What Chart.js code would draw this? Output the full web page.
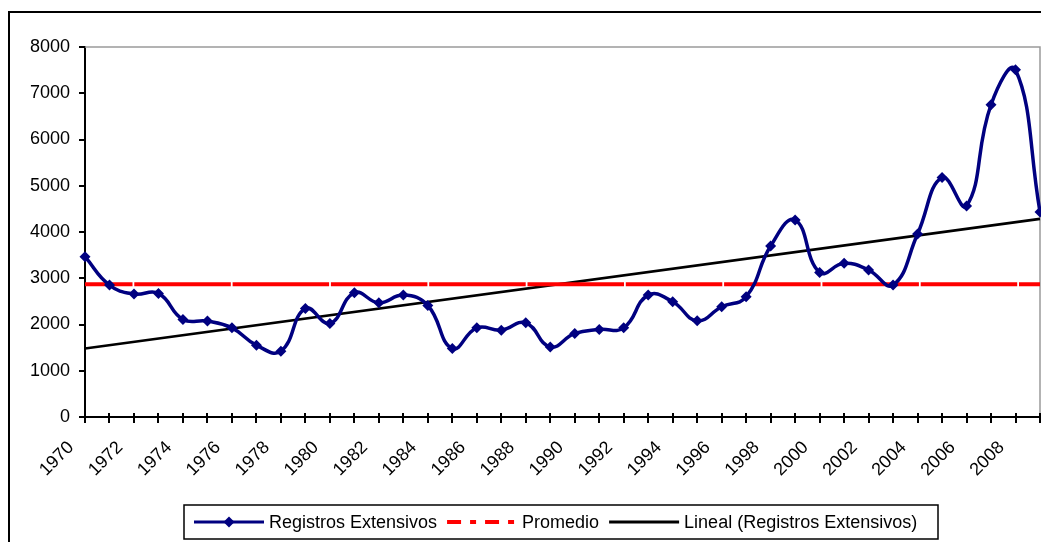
<!DOCTYPE html>
<html lang="es">
<head>
<meta charset="utf-8">
<title>Registros Extensivos</title>
<script src="https://cdn.jsdelivr.net/npm/chart.js@4/dist/chart.umd.min.js"></script>
<style>
  html, body { margin: 0; padding: 0; background: #fff; }
  canvas { display: block; }
</style>
</head>
<body>
<canvas id="registrosChart" width="1041" height="542"></canvas>
<script>
const years = ['1970', '1971', '1972', '1973', '1974', '1975', '1976', '1977', '1978', '1979',
               '1980', '1981', '1982', '1983', '1984', '1985', '1986', '1987', '1988', '1989',
               '1990', '1991', '1992', '1993', '1994', '1995', '1996', '1997', '1998', '1999',
               '2000', '2001', '2002', '2003', '2004', '2005', '2006', '2007', '2008', '2009'];

const registros = [3466, 2853, 2658, 2672, 2110, 2073, 1928, 1553, 1423, 2348,
                   2023, 2686, 2469, 2636, 2412, 1481, 1928, 1878, 2036, 1516,
                   1806, 1893, 1928, 2636, 2491, 2080, 2383, 2600, 3697, 4260,
                   3127, 3322, 3177, 2852, 3957, 5177, 4563, 6751, 7509, 4433];

// average and trend line, values at the first and the last year
const promedio = [2870, 2870];
const lineal = [1481, 4282];

const yTicks = [0, 1000, 2000, 3000, 4000, 5000, 6000, 7000, 8000];

const FONT = 'Liberation Sans, Arial, sans-serif';
const ends = [years[0], years[years.length - 1]];

// white background, plot border, inner x ticks, outer frame and the legend box
const chartFrame = {
    id: 'chartFrame',
    beforeDraw(chart) {
        const ctx = chart.ctx;
        ctx.save();
        ctx.fillStyle = '#fff';
        ctx.fillRect(0, 0, chart.width, chart.height);
        ctx.restore();
    },
    beforeDatasetsDraw(chart) {
        const { ctx, chartArea: a } = chart;
        ctx.save();
        ctx.strokeStyle = '#9a9a9a';
        ctx.lineWidth = 1.5;
        ctx.beginPath();
        ctx.moveTo(a.left, a.top);
        ctx.lineTo(a.right, a.top);
        ctx.lineTo(a.right, a.bottom);
        ctx.stroke();

        const x = chart.scales.x;
        ctx.strokeStyle = '#000';
        ctx.lineWidth = 2;
        ctx.beginPath();
        for (let i = 0; i < x.ticks.length; i++) {
            const px = Math.round(x.getPixelForTick(i));
            ctx.moveTo(px, a.bottom - 4);
            ctx.lineTo(px, a.bottom);
        }
        ctx.stroke();
        ctx.restore();
    },
    afterDraw(chart) {
        const ctx = chart.ctx;
        ctx.save();
        ctx.strokeStyle = '#000';
        ctx.lineWidth = 2;
        ctx.strokeRect(9, 12, 1200, 700);

        // legend
        ctx.lineWidth = 1.5;
        ctx.strokeRect(184, 505, 754, 34);
        ctx.font = '18px ' + FONT;
        ctx.textBaseline = 'middle';
        ctx.fillStyle = '#000';
        const cy = 522;
        let lx = 194;
        chart.data.datasets.forEach(ds => {
            ctx.save();
            ctx.strokeStyle = ds.borderColor;
            ctx.lineWidth = ds.legendWidth;
            ctx.setLineDash(ds.legendDash || []);
            ctx.beginPath();
            ctx.moveTo(lx, cy);
            ctx.lineTo(lx + 70, cy);
            ctx.stroke();
            if (ds.pointRadius) {
                ctx.setLineDash([]);
                ctx.fillStyle = ds.borderColor;
                ctx.beginPath();
                ctx.moveTo(lx + 35, cy - 5.5);
                ctx.lineTo(lx + 40.5, cy);
                ctx.lineTo(lx + 35, cy + 5.5);
                ctx.lineTo(lx + 29.5, cy);
                ctx.closePath();
                ctx.fill();
            }
            ctx.restore();
            ctx.fillText(ds.label, lx + 75, cy + 1);
            lx += 75 + ctx.measureText(ds.label).width + 10;
        });
        ctx.restore();
    }
};

const ctx = document.getElementById('registrosChart').getContext('2d');
new Chart(ctx, {
    type: 'line',
    data: {
        labels: years,
        datasets: [{
            label: 'Registros Extensivos',
            data: registros,
            borderColor: '#000080',
            backgroundColor: '#000080',
            borderWidth: 3.5,
            tension: 0.45,
            pointStyle: 'rectRot',
            pointRadius: 5.5,
            pointBorderWidth: 0,
            legendWidth: 3,
            clip: false
        }, {
            label: 'Promedio',
            data: ends.map((y, i) => ({ x: y, y: promedio[i] })),
            borderColor: '#ff0000',
            borderWidth: 4,
            borderDash: [96.5, 1.8],
            borderDashOffset: 49,
            pointRadius: 0,
            legendWidth: 4,
            legendDash: [14, 9, 6, 9]
        }, {
            label: 'Lineal (Registros Extensivos)',
            data: ends.map((y, i) => ({ x: y, y: lineal[i] })),
            borderColor: '#000000',
            borderWidth: 2.75,
            pointRadius: 0,
            legendWidth: 3
        }]
    },
    options: {
        responsive: false,
        animation: false,
        events: [],
        layout: { autoPadding: false, padding: { left: 0, top: 47, right: 1, bottom: 0 } },
        plugins: {
            legend: { display: false },
            tooltip: { enabled: false }
        },
        scales: {
            x: {
                grid: { drawOnChartArea: false, color: '#000', lineWidth: 2, tickLength: 6 },
                border: { color: '#000', width: 2 },
                ticks: {
                    autoSkip: false,
                    minRotation: 45,
                    maxRotation: 45,
                    labelOffset: -14,
                    padding: 14,
                    color: '#000',
                    font: { family: FONT, size: 18 },
                    callback: function (value, index) {
                        return index % 2 === 0 ? this.getLabelForValue(value) : '';
                    }
                },
                afterFit: scale => {
                    scale.height = 125;
                    scale.paddingLeft = 0;
                    scale.paddingRight = 0;
                }
            },
            y: {
                min: 0,
                max: 8000,
                afterBuildTicks: scale => { scale.ticks = yTicks.map(v => ({ value: v })); },
                grid: { drawOnChartArea: false, color: '#000', lineWidth: 2, tickLength: 6 },
                border: { color: '#000', width: 2 },
                ticks: {
                    padding: 9,
                    color: '#000',
                    font: { family: FONT, size: 18 },
                    callback: value => String(value)
                },
                afterFit: scale => {
                    scale.width = 85;
                    scale.paddingTop = 0;
                    scale.paddingBottom = 0;
                }
            }
        }
    },
    plugins: [chartFrame]
});
</script>
</body>
</html>
